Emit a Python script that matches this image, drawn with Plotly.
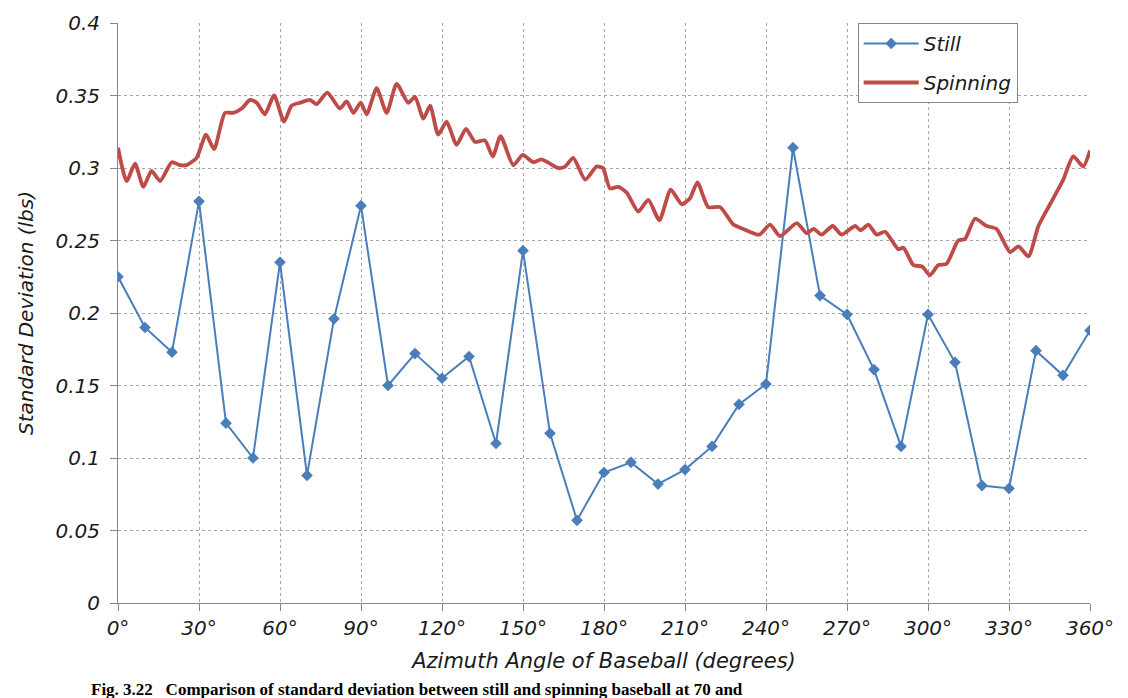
import plotly.graph_objects as go

# Still baseball: standard deviation every 10 degrees
still_angle = list(range(0, 361, 10))
still_sd = [0.225, 0.190, 0.173, 0.277, 0.124, 0.100, 0.235, 0.088, 0.196, 0.274,
            0.150, 0.172, 0.155, 0.170, 0.110, 0.243, 0.117, 0.057, 0.090, 0.097,
            0.082, 0.092, 0.108, 0.137, 0.151, 0.314, 0.212, 0.199, 0.161, 0.108,
            0.199, 0.166, 0.081, 0.079, 0.174, 0.157, 0.188]

# Spinning baseball: continuous trace
spin_angle = [0, 3.2, 6.3, 9.4, 12.4, 15.6, 19.9, 22.9, 25.4, 29.1, 32.6, 35.6, 39.6,
              42.7, 45.8, 48.9, 51.4, 54.4, 57.8, 61.5, 64.3, 67.4, 71.1, 73.6, 77.5,
              82.2, 84.7, 87.2, 89.9, 92.1, 95.8, 99.5, 103.2, 107.5, 110.0, 113.1,
              115.6, 118.6, 121.7, 125.4, 128.9, 132.2, 135.9, 138.8, 141.7, 146.4,
              149.9, 153.8, 156.9, 160.0, 163.1, 165.6, 168.6, 173.0, 177.3, 179.6,
              182.2, 185.3, 188.4, 192.7, 196.4, 200.5, 204.7, 208.8, 211.8, 214.6,
              218.6, 223.0, 227.9, 231.6, 237.5, 241.5, 245.2, 251.4, 255.1, 257.6,
              260.6, 264.7, 268.0, 273.0, 275.0, 277.9, 281.0, 284.1, 289.0, 290.9,
              294.6, 297.9, 300.7, 303.8, 306.9, 311.2, 313.7, 317.4, 321.7, 325.4,
              330.4, 333.5, 337.2, 340.9, 345.2, 350.1, 353.8, 357.5, 360]
spin_sd = [0.314, 0.291, 0.303, 0.287, 0.298, 0.291, 0.304, 0.302, 0.302, 0.307, 0.323,
           0.313, 0.338, 0.338, 0.341, 0.347, 0.345, 0.337, 0.350, 0.332, 0.343, 0.345,
           0.347, 0.344, 0.352, 0.341, 0.346, 0.338, 0.345, 0.337, 0.355, 0.338, 0.358,
           0.345, 0.349, 0.334, 0.343, 0.323, 0.332, 0.316, 0.327, 0.318, 0.319, 0.308,
           0.322, 0.302, 0.309, 0.304, 0.306, 0.303, 0.300, 0.301, 0.307, 0.292, 0.301,
           0.300, 0.286, 0.287, 0.283, 0.270, 0.278, 0.264, 0.285, 0.275, 0.279, 0.290,
           0.273, 0.273, 0.261, 0.258, 0.254, 0.261, 0.253, 0.262, 0.255, 0.258, 0.254,
           0.260, 0.254, 0.260, 0.257, 0.261, 0.254, 0.256, 0.244, 0.245, 0.233, 0.232,
           0.226, 0.233, 0.234, 0.250, 0.251, 0.265, 0.260, 0.258, 0.242, 0.246, 0.239,
           0.260, 0.275, 0.292, 0.308, 0.301, 0.312]

x_ticks = list(range(0, 361, 30))
x_tick_text = [f"{a}°" for a in x_ticks]
y_ticks = [0, 0.05, 0.1, 0.15, 0.2, 0.25, 0.3, 0.35, 0.4]
y_tick_text = ["0", "0.05", "0.1", "0.15", "0.2", "0.25", "0.3", "0.35", "0.4"]

FONT = "DejaVu Sans"
AXIS_GREY = "#868686"
GRID_GREY = "#a8a8a8"
TEXT = "#1a1a1a"

fig = go.Figure()
fig.add_trace(go.Scatter(
    x=still_angle, y=still_sd, name="Still", mode="lines+markers",
    line=dict(color="#4A7EBB", width=2),
    marker=dict(symbol="diamond", size=9, color="#4A7EBB"),
    legendgroup="a",
))
fig.add_trace(go.Scatter(
    x=spin_angle, y=spin_sd, name="Spinning", mode="lines",
    line=dict(color="#BE4B48", width=3.8, shape="spline", smoothing=0.6),
    legendgroup="b",
))

axis_common = dict(
    showline=True, linecolor=AXIS_GREY, linewidth=1,
    ticks="outside", ticklen=7, tickcolor=AXIS_GREY,
    showgrid=True, gridcolor=GRID_GREY, griddash="dot", gridwidth=1,
    zeroline=False, mirror=False,
    tickfont=dict(family=FONT, size=20, color=TEXT, style="italic"),
)

fig.update_xaxes(
    range=[0, 360], tickvals=x_ticks, ticktext=x_tick_text,
    title=dict(text="Azimuth Angle of Baseball (degrees)", standoff=14,
               font=dict(family=FONT, size=21, color=TEXT, style="italic")),
    **axis_common,
)
fig.update_yaxes(
    range=[0, 0.4], tickvals=y_ticks, ticktext=y_tick_text,
    ticklabelstandoff=6,
    title=dict(text="Standard Deviation (lbs)", standoff=16,
               font=dict(family=FONT, size=20, color=TEXT, style="italic")),
    **axis_common,
)

fig.update_layout(
    width=1128, height=698,
    margin=dict(l=118, r=38, t=23, b=95),
    paper_bgcolor="white", plot_bgcolor="white",
    showlegend=True,
    legend=dict(
        x=0.761, y=1.0, xanchor="left", yanchor="top",
        bgcolor="white", bordercolor=AXIS_GREY, borderwidth=1,
        font=dict(family=FONT, size=20, color=TEXT, style="italic"),
        tracegroupgap=10, traceorder="grouped", itemwidth=55,
    ),
    annotations=[dict(
        text="<b>Fig. 3.22   Comparison of standard deviation between still and spinning baseball at 70 and</b>",
        xref="paper", yref="paper", x=-0.03, y=-0.129, xanchor="left", yanchor="top",
        showarrow=False, font=dict(family="Liberation Serif", size=17, color="black"),
    )],
)

fig.write_html("out.html")
